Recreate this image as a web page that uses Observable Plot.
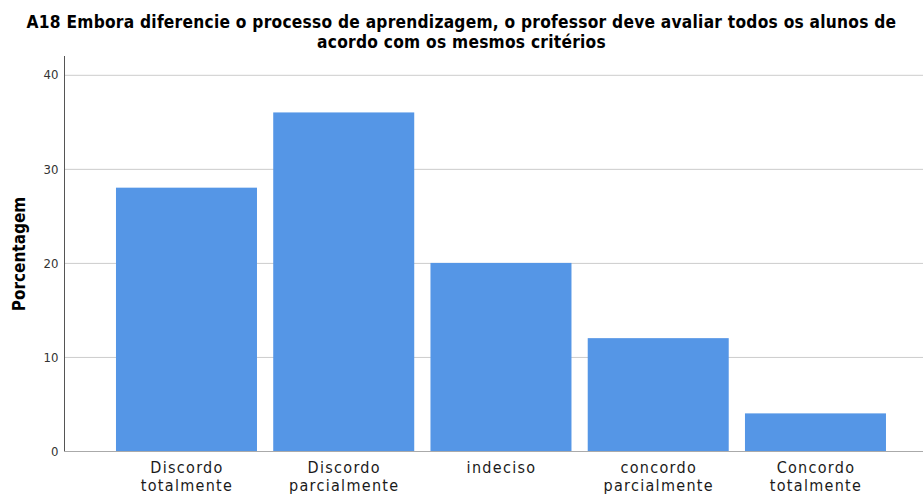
<!DOCTYPE html>
<html>
<head>
<meta charset="utf-8">
<script src="https://cdn.jsdelivr.net/npm/d3@7"></script>
<script src="https://cdn.jsdelivr.net/npm/@observablehq/plot@0.6"></script>
<style>
  html, body { margin: 0; padding: 0; background: #fff; }
  #title { width: 923px; height: 50px; box-sizing: border-box; padding-top: 13px; text-align: center; white-space: nowrap;
    font-family: "DejaVu Sans Condensed", sans-serif; font-weight: bold; font-size: 17.2px; letter-spacing: 0.25px; line-height: 19.5px; color: #000; }
  g[aria-label="x-axis tick label"] text { letter-spacing: 1.3px; }
</style>
</head>
<body>
<div id="title">A18 Embora diferencie o processo de aprendizagem, o professor deve avaliar todos os alunos de<br>acordo com os mesmos critérios</div>
<div id="chart"></div>
<script>
const categories = ["Discordo totalmente", "Discordo parcialmente", "indeciso", "concordo parcialmente", "Concordo totalmente"];
const tickLabels = ["Discordo\ntotalmente", "Discordo\nparcialmente", "indeciso", "concordo\nparcialmente", "Concordo\ntotalmente"];
const values = [28, 36, 20, 12, 4];
const yTicks = [0, 10, 20, 30, 40];

const data = categories.map((c, i) => ({category: c, value: values[i]}));
const labelOf = new Map(categories.map((c, i) => [c, tickLabels[i]]));

const chart = Plot.plot({
  width: 923,
  height: 444,
  marginTop: 6,
  marginBottom: 43,
  marginLeft: 64,
  marginRight: 0,
  style: {fontFamily: "DejaVu Sans Condensed, sans-serif", background: "#fff"},
  x: {domain: categories, round: false, paddingInner: 0.1033, paddingOuter: 0.283, align: 0.584, label: null},
  y: {domain: [0, 42], label: null},
  marks: [
    Plot.gridY(yTicks, {stroke: "#cccccc", strokeOpacity: 1, strokeWidth: 1}),
    Plot.barY(data, {x: "category", y: "value", fill: "#5596e6"}),
    Plot.frame({anchor: "left", stroke: "#555"}),
    Plot.ruleY([0], {stroke: "#aaa"}),
    Plot.axisY(yTicks, {tickSize: 0, tickPadding: 6, fontSize: 13, fill: "#333", label: null}),
    Plot.axisX({tickSize: 0, tickPadding: 8, fontSize: 16, lineHeight: 1.15, fill: "#1a1a1a", tickFormat: d => labelOf.get(d), label: null}),
    Plot.text(["Porcentagem"], {frameAnchor: "left", dx: -45, rotate: -90, textAnchor: "middle", fontSize: 17, fontWeight: "bold", fill: "#000"})
  ]
});
document.getElementById("chart").appendChild(chart);
</script>
</body>
</html>
